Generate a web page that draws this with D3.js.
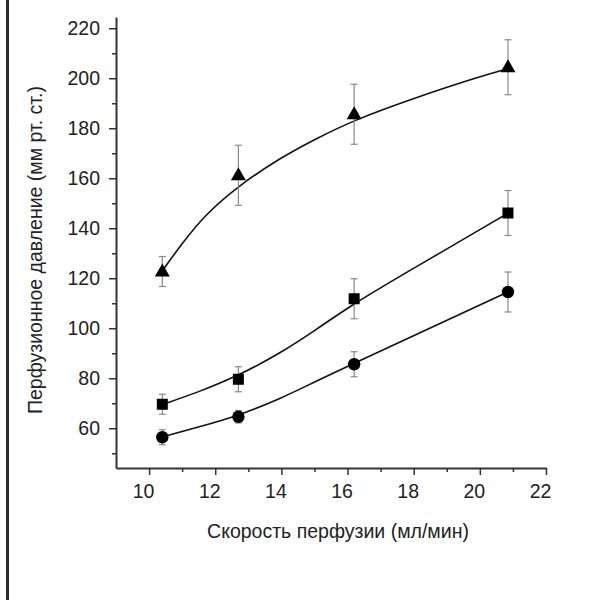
<!DOCTYPE html>
<html>
<head>
<meta charset="utf-8">
<script src="https://cdn.jsdelivr.net/npm/d3@7"></script>
<style>
  html, body { margin: 0; padding: 0; background: #fff; }
  svg { display: block; }
  text { font-family: "Liberation Sans", Arial, sans-serif; fill: #222; }
</style>
</head>
<body>
<svg id="chart" width="613" height="600"></svg>
<script>
// ---- data ----
const flowX = [10.4, 12.7, 16.2, 20.85];
const triangleMean = [122.7, 161.2, 185.6, 204.4];
const triangleErr  = [6, 12, 12, 11];
const squareMean   = [69.6, 79.6, 111.8, 146.1];
const squareErr    = [4, 5, 8, 9];
const circleMean   = [56.4, 64.6, 85.6, 114.5];
const circleErr    = [3, 2.5, 5, 8];

// fitted curves
const triangleFitX = [10.4, 11, 11.7, 12.7, 14, 15, 16.2, 18, 20, 20.85];
const triangleFitY = [123, 134, 145.5, 157, 168.4, 175.5, 183.3, 192, 200.7, 203.8];
const squareFitX = [10.4, 11.5, 12.7, 14, 15, 16.2, 18, 20.85];
const squareFitY = [69.5, 74.5, 81, 90.3, 99, 110, 124, 146];
const circleFitX = [10.4, 11.5, 12.7, 14, 15, 16.2, 18, 20.85];
const circleFitY = [56.5, 60.5, 65, 72, 78.5, 86, 97, 114.5];

const xMajorTicks = [10, 12, 14, 16, 18, 20, 22];
const xMinorTicks = [11, 13, 15, 17, 19, 21];
const yMajorTicks = [60, 80, 100, 120, 140, 160, 180, 200, 220];
const yMinorTicks = [50, 70, 90, 110, 130, 150, 170, 190, 210];

const xTitle = "Скорость перфузии (мл/мин)";
const yTitle = "Перфузионное давление (мм рт. ст.)";

// ---- drawing ----
const svg = d3.select("#chart");
svg.append("rect").attr("width", 613).attr("height", 600).attr("fill", "#fff");

// left page border
svg.append("line").attr("x1", 7.5).attr("x2", 7.5).attr("y1", 0).attr("y2", 600)
  .attr("stroke", "#2b2b2b").attr("stroke-width", 3);

const x = d3.scaleLinear().domain([9, 22]).range([116, 546]);
const y = d3.scaleLinear().domain([44.1, 224.5]).range([468, 17]);

const axisColor = "#333";

// y axis
const gy = svg.append("g").attr("transform", `translate(${x(9)},0)`);
gy.call(d3.axisLeft(y).tickValues(yMajorTicks).tickSize(7).tickSizeOuter(0).tickPadding(9).tickFormat(d3.format("d")));
const gyMinor = svg.append("g").attr("transform", `translate(${x(9)},0)`);
gyMinor.call(d3.axisLeft(y).tickValues(yMinorTicks).tickSize(4).tickSizeOuter(0).tickFormat(""));
gyMinor.select(".domain").remove();

// x axis
const gx = svg.append("g").attr("transform", `translate(0,${y(44.1)})`);
gx.call(d3.axisBottom(x).tickValues(xMajorTicks).tickSize(7).tickSizeOuter(0).tickPadding(9).tickFormat(d3.format("d")));
const gxMinor = svg.append("g").attr("transform", `translate(0,${y(44.1)})`);
gxMinor.call(d3.axisBottom(x).tickValues(xMinorTicks).tickSize(4).tickSizeOuter(0).tickFormat(""));
gxMinor.select(".domain").remove();

[gy, gyMinor, gx, gxMinor].forEach(g => {
  g.selectAll("path.domain").attr("stroke", axisColor).attr("stroke-width", 2);
  g.selectAll(".tick line").attr("stroke", axisColor).attr("stroke-width", 1.5);
  g.selectAll(".tick text").style("font-family", '"Liberation Sans", Arial, sans-serif')
    .style("font-size", "19.5px").attr("fill", "#222");
});
gx.selectAll(".tick text").attr("dx", -6);

// titles
svg.append("text").attr("x", 338).attr("y", 538).attr("text-anchor", "middle")
  .style("font-size", "19.5px").text(xTitle);
svg.append("text").attr("transform", "translate(42,250) rotate(-90)").attr("text-anchor", "middle")
  .style("font-size", "19.5px").text(yTitle);

// curves
const line = d3.line().x(d => x(d[0])).y(d => y(d[1])).curve(d3.curveBasis);
const fits = [
  d3.zip(triangleFitX, triangleFitY),
  d3.zip(squareFitX, squareFitY),
  d3.zip(circleFitX, circleFitY)
];
svg.append("g").selectAll("path").data(fits).join("path")
  .attr("d", line).attr("fill", "none").attr("stroke", "#111").attr("stroke-width", 1.6);

// error bars
const series = [
  { mean: triangleMean, err: triangleErr, shape: "triangle" },
  { mean: squareMean, err: squareErr, shape: "square" },
  { mean: circleMean, err: circleErr, shape: "circle" }
];
const eb = svg.append("g").attr("stroke", "#8a8a8a").attr("stroke-width", 1.2).attr("fill", "none");
series.forEach(s => {
  flowX.forEach((fx, i) => {
    const cx = x(fx), top = y(s.mean[i] + s.err[i]), bot = y(s.mean[i] - s.err[i]);
    eb.append("line").attr("x1", cx).attr("x2", cx).attr("y1", top).attr("y2", bot);
    eb.append("line").attr("x1", cx - 3.5).attr("x2", cx + 3.5).attr("y1", top).attr("y2", top);
    eb.append("line").attr("x1", cx - 3.5).attr("x2", cx + 3.5).attr("y1", bot).attr("y2", bot);
  });
});

// markers
const mk = svg.append("g").attr("fill", "#000");
series.forEach(s => {
  flowX.forEach((fx, i) => {
    const cx = x(fx), cy = y(s.mean[i]);
    if (s.shape === "triangle") {
      mk.append("path").attr("d", `M${cx},${cy - 8} L${cx + 7.5},${cy + 5} L${cx - 7.5},${cy + 5} Z`);
    } else if (s.shape === "square") {
      mk.append("rect").attr("x", cx - 5.5).attr("y", cy - 5.5).attr("width", 11).attr("height", 11);
    } else {
      mk.append("circle").attr("cx", cx).attr("cy", cy).attr("r", 6.2);
    }
  });
});
</script>
</body>
</html>
